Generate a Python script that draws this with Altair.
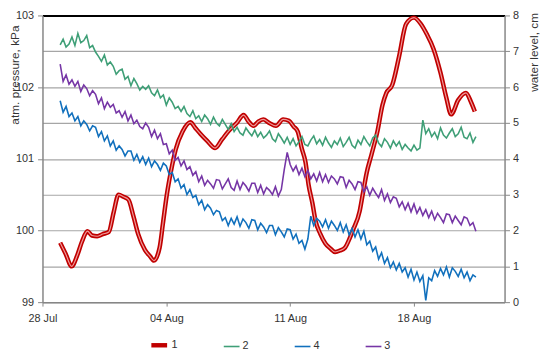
import altair as alt
import pandas as pd

# ---- data ----
# atmospheric pressure, kPa (series "1"), days since 28 Jul
red_day = [1.00, 1.30, 1.65, 1.96, 2.24, 2.54, 2.80, 3.09, 3.41, 3.75, 4.02, 4.30, 4.58, 4.86,
           5.14, 5.41, 5.79, 6.08, 6.30, 6.62, 6.81, 7.03, 7.25, 7.53, 7.92, 8.36, 8.64, 8.92,
           9.31, 9.76, 10.15, 10.53, 10.98, 11.37, 11.65, 11.93, 12.20, 12.48, 12.82, 13.20,
           13.60, 13.93, 14.20, 14.43, 14.65, 14.87, 15.04, 15.26, 15.43, 15.71, 15.99, 16.27,
           16.54, 16.82, 17.10, 17.38, 17.54, 17.93, 18.10, 18.33, 18.60, 18.94, 19.22, 19.44,
           19.77, 20.16, 20.55, 21.00, 21.39, 21.72, 22.11, 22.50, 22.83, 23.10, 23.50, 23.94,
           24.21, 24.44]
red_kpa = [99.83, 99.68, 99.50, 99.65, 99.85, 99.99, 99.93, 99.92, 99.95, 99.98, 100.25, 100.50,
           100.47, 100.43, 100.20, 99.95, 99.73, 99.64, 99.58, 99.76, 100.10, 100.50, 100.81,
           101.13, 101.38, 101.51, 101.43, 101.35, 101.25, 101.15, 101.27, 101.39, 101.50,
           101.61, 101.52, 101.46, 101.52, 101.55, 101.50, 101.46, 101.55, 101.53, 101.45,
           101.38, 101.15, 100.95, 100.64, 100.38, 100.14, 99.95, 99.82, 99.75, 99.70, 99.72,
           99.76, 99.90, 100.00, 100.27, 100.50, 100.81, 101.06, 101.39, 101.75, 101.92, 102.03,
           102.43, 102.88, 102.97, 102.88, 102.74, 102.53, 102.20, 101.85, 101.62, 101.82,
           101.92, 101.80, 101.66]

# water level, cm, one reading every 4 hours from day 1.0 (29 Jul)
wl_start = 1.0
wl_step = 1.0 / 6.0
wl_2 = [7.18, 7.34, 7.12, 7.20, 7.40, 7.16,
        7.50, 7.24, 7.30, 7.44, 7.10, 7.16,
        6.98, 6.86, 6.72, 6.90, 6.62, 6.70,
        6.58, 6.36, 6.46, 6.50, 6.22, 6.30,
        6.04, 6.24, 6.10, 5.92, 6.02, 5.94,
        6.04, 5.84, 5.76, 5.92, 5.70, 5.78,
        5.50, 5.70, 5.58, 5.40, 5.46, 5.32,
        5.46, 5.26, 5.18, 5.34, 5.12, 5.20,
        5.04, 5.22, 5.12, 4.96, 5.16, 5.00,
        4.92, 5.10, 4.96, 4.82, 4.98, 4.76,
        4.88, 4.72, 4.66, 4.86, 4.74, 4.64,
        4.80, 4.62, 4.74, 4.58, 4.66, 4.78,
        4.56, 4.48, 4.70, 4.58, 4.44, 4.60,
        4.40, 4.56, 4.36, 4.48, 4.62, 4.40,
        4.36, 4.52, 4.64, 4.42, 4.54, 4.38,
        4.60, 4.44, 4.32, 4.50, 4.40, 4.58,
        4.34, 4.46, 4.60, 4.38, 4.30, 4.52,
        4.40, 4.62, 4.48, 4.36, 4.58, 4.66,
        4.44, 4.34, 4.56, 4.46, 4.30, 4.50,
        4.36, 4.48, 4.26, 4.40, 4.30, 4.22,
        4.38, 4.24, 4.30, 5.08, 4.70, 4.84,
        4.62, 4.74, 4.56, 4.86, 4.66, 4.58,
        4.72, 4.84, 4.62, 4.70, 4.88, 4.60,
        4.56, 4.72, 4.46, 4.62]
wl_4 = [5.62, 5.30, 5.46, 5.18, 5.28, 5.06,
        5.18, 4.92, 5.06, 4.96, 4.78, 4.92,
        4.88, 4.62, 4.76, 4.50, 4.64, 4.36,
        4.50, 4.24, 4.36, 4.26, 4.08, 4.22,
        4.22, 3.96, 4.12, 3.90, 4.06, 3.84,
        4.02, 3.78, 3.94, 3.84, 3.68, 3.88,
        3.80, 3.56, 3.62, 3.36, 3.44, 3.18,
        3.28, 3.00, 3.14, 2.92, 2.98, 2.72,
        2.84, 2.58, 2.72, 2.62, 2.44, 2.56,
        2.52, 2.28, 2.36, 2.14, 2.34, 2.18,
        2.38, 2.12, 2.32, 2.22, 2.06, 2.30,
        2.28, 2.02, 2.20, 2.10, 1.94, 2.14,
        2.14, 1.88, 2.08, 1.96, 1.82, 2.04,
        2.02, 1.76, 1.90, 1.64, 1.72, 1.48,
        1.76, 2.40, 2.14, 2.34, 2.26, 2.10,
        2.30, 2.06, 2.26, 2.14, 2.00, 2.22,
        1.96, 2.16, 1.88, 2.06, 1.82, 2.02,
        1.76, 1.98, 1.60, 1.70, 1.42, 1.54,
        1.20, 1.38, 1.08, 1.24, 0.96, 1.12,
        0.90, 1.08, 0.84, 0.96, 0.70, 0.92,
        0.62, 0.84, 0.58, 0.74, 0.05, 0.68,
        0.60, 0.88, 0.72, 0.94, 0.76, 0.98,
        0.70, 0.96, 0.86, 0.72, 0.92, 0.68,
        0.84, 0.60, 0.76, 0.70]
wl_3 = [6.64, 6.16, 6.34, 6.08, 6.20, 6.02,
        6.16, 5.88, 6.06, 5.96, 5.76, 5.90,
        5.80, 5.54, 5.70, 5.40, 5.58, 5.44,
        5.52, 5.28, 5.34, 5.16, 5.32, 5.06,
        5.22, 4.98, 5.08, 4.90, 4.84, 5.00,
        4.88, 4.62, 4.80, 4.56, 4.70, 4.40,
        4.42, 4.14, 4.24, 3.96, 4.04, 3.80,
        3.94, 3.70, 3.78, 3.54, 3.64, 3.36,
        3.52, 3.26, 3.40, 3.30, 3.18, 3.42,
        3.40, 3.16, 3.30, 3.44, 3.20, 3.12,
        3.38, 3.14, 3.34, 3.24, 3.10, 3.32,
        3.32, 3.06, 3.26, 3.02, 3.20, 3.12,
        3.00, 3.22, 2.96, 3.14, 3.70, 4.18,
        3.84, 3.66, 3.80, 3.56, 3.74, 3.50,
        3.68, 3.44, 3.58, 3.38, 3.62, 3.36,
        3.56, 3.34, 3.52, 3.44, 3.30, 3.50,
        3.48, 3.20, 3.40, 3.30, 3.14, 3.36,
        3.34, 3.08, 3.22, 2.98, 3.18, 3.04,
        2.92, 3.14, 2.84, 3.02, 2.78, 2.94,
        2.90, 2.66, 2.80, 2.58, 2.76, 2.52,
        2.74, 2.48, 2.64, 2.42, 2.58, 2.36,
        2.54, 2.30, 2.48, 2.36, 2.22, 2.46,
        2.44, 2.22, 2.40, 2.28, 2.16, 2.38,
        2.34, 2.14, 2.22, 1.98]

series_order = ["1", "2", "4", "3"]
series_colors = ["#c00000", "#3f9f77", "#1170bd", "#7636a6"]
series_widths = [4.5, 1.6, 1.6, 1.6]
tick_days = [0, 7, 14, 21]

# ---- tables ----
df_red = pd.DataFrame({"day": red_day, "value": red_kpa, "series": "1"})
rows = []
for name, vals in [("2", wl_2), ("4", wl_4), ("3", wl_3)]:
    for i, v in enumerate(vals):
        rows.append({"day": wl_start + wl_step * i, "value": v, "series": name})
df_wl = pd.DataFrame(rows)

FONT = "Liberation Sans"
GRAY = "#868686"

color_scale = alt.Scale(domain=series_order, range=series_colors)
width_scale = alt.Scale(type="ordinal", domain=series_order, range=series_widths)
legend = alt.Legend(title=None, orient="none", direction="horizontal",
                    legendX=108, legendY=324, symbolType="stroke", symbolSize=256,
                    labelFont=FONT, labelFontSize=11, labelColor="#333333",
                    columnPadding=42, labelOffset=2)

x_enc = alt.X("day:Q",
              scale=alt.Scale(domain=[0, 26.12], nice=False, zero=False),
              axis=alt.Axis(values=tick_days, title=None, grid=False,
                            labelExpr="timeFormat(datetime(2014, 6, 28 + datum.value), '%d %b')",
                            tickSize=4, labelPadding=7, domainColor=GRAY, domainWidth=1.5,
                            tickColor=GRAY, labelFlush=False))

y_left = alt.Y("value:Q",
               scale=alt.Scale(domain=[99, 103], nice=False, zero=False),
               axis=alt.Axis(orient="left", values=[99, 100, 101, 102, 103], grid=False,
                             title="atm. pressure, kPa", titleAngle=270, titleX=-28, titleY=60,
                             titleBaseline="middle", titleAlign="center",
                             tickSize=5, labelPadding=4, domainColor=GRAY, domainWidth=1.5,
                             tickColor=GRAY))

y_right = alt.Y("value:Q",
                scale=alt.Scale(domain=[0, 8], nice=False, zero=False),
                axis=alt.Axis(orient="right", values=list(range(9)), grid=True,
                              gridColor={"condition": {"test": "datum.value === 8", "value": "#000000"},
                                         "value": "#a6a6a6"},
                              gridWidth={"condition": {"test": "datum.value === 8", "value": 2},
                                         "value": 1.2},
                              title="water level, cm", titleAngle=270, titleX=29, titleY=37,
                              titleBaseline="middle", titleAlign="center",
                              tickSize=5, labelPadding=3, domainColor=GRAY, domainWidth=1.5,
                              tickColor=GRAY))

red_base = alt.Chart(df_red).encode(x=x_enc, y=y_left)
red_line = red_base.mark_line(interpolate="monotone").encode(
    color=alt.Color("series:N", scale=color_scale, legend=legend),
    strokeWidth=alt.StrokeWidth("series:N", scale=width_scale, legend=legend),
)
red_inner = red_base.mark_line(interpolate="monotone", color="#ef9a9a", strokeWidth=1.2)

wl_lines = alt.Chart(df_wl).mark_line().encode(
    x=x_enc, y=y_right,
    color=alt.Color("series:N", scale=color_scale, legend=legend),
    strokeWidth=alt.StrokeWidth("series:N", scale=width_scale, legend=legend),
)

chart = alt.layer(alt.layer(red_line, red_inner), wl_lines).resolve_scale(
    y="independent"
).properties(
    width=469, height=291,
    padding={"left": 35, "top": 5, "right": 38, "bottom": 47},
    autosize=alt.AutoSizeParams(type="none"),
).configure_view(stroke=None).configure_axis(
    labelFont=FONT, labelFontSize=11, labelColor="#333333",
    titleFont=FONT, titleFontSize=12, titleFontWeight="normal", titleColor="#333333",
)

chart.save("out.html", embed_options={"renderer": "svg", "actions": False})
